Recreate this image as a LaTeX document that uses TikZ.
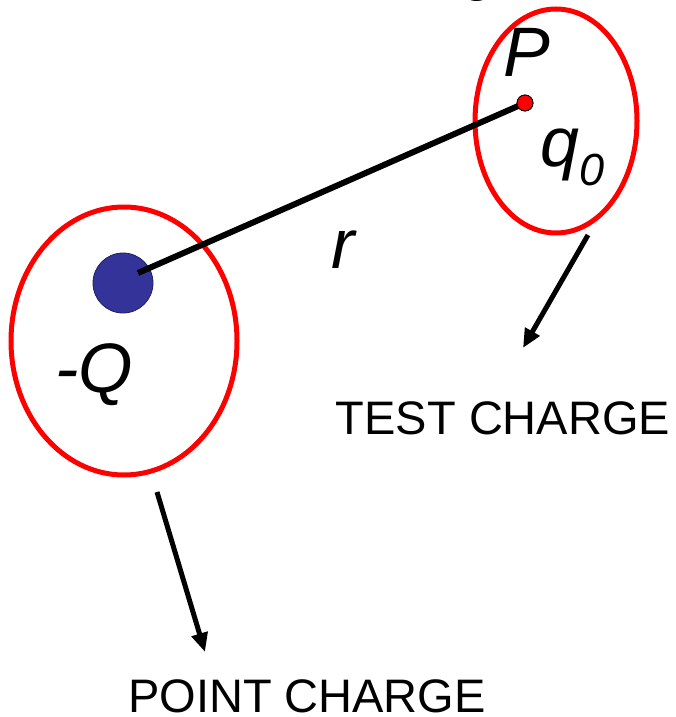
\documentclass[tikz,border=0pt]{standalone}
\usepackage{fontspec}
\setmainfont{Liberation Sans}
\usetikzlibrary{shapes.geometric,arrows.meta}
\definecolor{chargeblue}{HTML}{333399}
\definecolor{ringred}{HTML}{FF0000}
\tikzset{
  ring/.style={ellipse, draw=ringred, line width=5pt, inner sep=0pt},
  caption/.style={inner sep=0pt, font=\fontsize{47}{56}\selectfont},
  varlabel/.style={inner sep=0pt, font=\fontsize{70}{84}\selectfont\itshape},
  pointer/.style={line width=5pt, -{Triangle[length=19pt,width=16pt]}},
}
\begin{document}
\begin{tikzpicture}[x=1pt,y=-1pt]
\useasboundingbox (0,0) rectangle (676,717);
% clipped title remnant
\node[inner sep=0pt, anchor=base, font=\fontsize{58}{60}\selectfont] (title) at (478,-10) {g};
% rings
\node[ring, minimum width=226pt, minimum height=268pt] (pcring) at (124,341) {};
\node[ring, minimum width=162pt, minimum height=224pt] (tcring) at (556,121) {};
% charges
\node[circle, fill=chargeblue, draw=chargeblue!60!black, line width=0.8pt, minimum size=60pt, inner sep=0pt] (Q) at (123,283) {};
\coordinate (lineend) at (138,273);
\node[circle, fill=red, draw=black, line width=0.8pt, minimum size=16pt, inner sep=0pt] (P) at (525,103) {};
\draw[line width=6pt] (lineend) -- (P.center);
\node[circle, fill=red, draw=black, line width=0.8pt, minimum size=16pt, inner sep=0pt] at (P) {};
% labels
\node[varlabel, anchor=base] (Plab) at (527,77) {P};
\node[varlabel, anchor=base west] (qlab) at (540,166) {q\raisebox{-19pt}{\fontsize{45}{50}\selectfont 0}};
\node[varlabel, anchor=base] (rlab) at (343,268) {r};
\node[varlabel, anchor=base west] (Qlab) at (55,392) {-Q};
\node[caption] (tclab) at (503,418) {TEST CHARGE};
\node[caption] (pclab) at (307,696) {POINT CHARGE};
% pointers
\coordinate (tcstart) at (588,235);
\coordinate (tcend) at (523,348);
\coordinate (pcstart) at (157,492);
\coordinate (pcend) at (205,652);
\draw[pointer] (tcstart) -- (tcend);
\draw[pointer] (pcstart) -- (pcend);
\end{tikzpicture}
\end{document}
